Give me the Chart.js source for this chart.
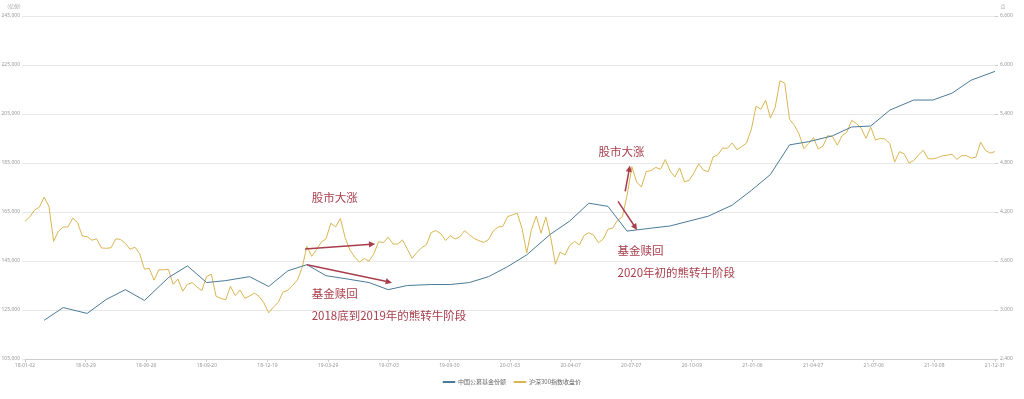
<!DOCTYPE html>
<html>
<head>
<meta charset="utf-8">
<script src="https://cdn.jsdelivr.net/npm/chart.js@4.4.1/dist/chart.umd.min.js"></script>
<style>
  html, body { margin: 0; padding: 0; background: #fff; }
</style>
</head>
<body>
<canvas id="chart" width="1024" height="399"></canvas>
<script>
// x axis tick labels (one every ~quarter)
const xTickLabels = [
  '18-01-02', '18-03-29', '18-06-26', '18-09-20', '18-12-19', '19-03-29',
  '19-07-03', '19-09-30', '20-01-03', '20-04-07', '20-07-07', '20-10-09',
  '21-01-06', '21-04-07', '21-07-06', '21-10-08', '21-12-31'
];

// left / right axis ticks
const fundTicks = [105000, 125000, 145000, 165000, 185000, 205000, 225000, 245000];
const indexTicks = [2400, 3000, 3600, 4200, 4800, 5400, 6000, 6600];

// 沪深300 weekly close, 2018-01 .. 2021-12
const cs300Close = [
  4087, 4138, 4225, 4258, 4382, 4271, 3840, 3966, 4015, 4018, 4125, 4070, 3905,
  3898, 3855, 3871, 3760, 3756, 3761, 3872, 3864, 3816, 3744, 3770, 3689, 3500,
  3510, 3366, 3492, 3492, 3498, 3314, 3379, 3230, 3315, 3334, 3281, 3238, 3410,
  3438, 3166, 3143, 3125, 3290, 3176, 3244, 3143, 3172, 3207, 3166, 3087, 2965,
  3036, 3094, 3220, 3243, 3301, 3365, 3520, 3780, 3657, 3740, 3831, 3872, 4062,
  4018, 4120, 3886, 3734, 3649, 3587, 3630, 3599, 3687, 3837, 3825, 3893, 3808,
  3808, 3858, 3747, 3634, 3703, 3762, 3799, 3948, 3972, 3935, 3852, 3911, 3869,
  3896, 3973, 3921, 3877, 3849, 3828, 3862, 3968, 4017, 4023,
  4144, 4163, 4187, 4003, 3700, 3987, 4149, 3940, 4138, 3895, 3560, 3710, 3675,
  3790, 3839, 3797, 3912, 3946, 3915, 3824, 3867, 3989, 4003, 4099, 4138, 4404,
  4753, 4568, 4505, 4695, 4707, 4746, 4723, 4843, 4704, 4628, 4740, 4570, 4587,
  4681, 4791, 4711, 4695, 4873, 4900, 4983, 4980, 5046, 4961, 5002, 5043, 5211,
  5496, 5458, 5569, 5351, 5483, 5807, 5778, 5336, 5262, 5155, 4976, 5038, 5111,
  4972, 5007, 5135, 5123, 5018, 5135, 5178, 5321, 5283, 5225, 5102, 5240, 5081,
  5102, 5094, 5037, 4811, 4939, 4911, 4799, 4830, 4898, 4956, 4853, 4849, 4866,
  4888, 4895, 4908, 4844, 4888, 4891, 4860, 4871, 5055, 4954, 4921, 4940
];

// fund shares, month ends (week index of each month end)
const fundWeek = [
  4, 8, 13, 17, 21, 25, 30, 34, 38, 42, 47, 51,
  55, 59, 63, 67, 72, 76, 80, 85, 89, 93, 97, 101,
  105, 110, 114, 118, 122, 126, 131, 135, 139, 143, 148, 152,
  156, 160, 164, 169, 173, 177, 181, 186, 190, 194, 198, 203
];
const fundShares = [
  120800, 126000, 123600, 129300, 133300, 128900, 138200, 143000, 136200, 137000, 138600, 134600,
  141000, 143500, 139000, 137800, 136200, 133300, 135000, 135400, 135400, 136200, 138600, 142700,
  147500, 156000, 161300, 168600, 167300, 157200, 158400, 159300, 161300, 163300, 167800, 173800,
  180300, 192400, 193700, 196100, 199700, 200100, 206600, 210700, 210700, 213500, 218800, 222400
];

const seriesNames = ['中国公募基金份额', '沪深300指数收盘价'];

// annotations, anchored on week index / index points
const noteTexts = [
  { text: '股市大涨', x: 60, y: 4370 },
  { text: '基金赎回', x: 60, y: 3200 },
  { text: '2018底到2019年的熊转牛阶段', x: 60, y: 2935 },
  { text: '股市大涨', x: 120, y: 4940 },
  { text: '基金赎回', x: 124, y: 3725 },
  { text: '2020年初的熊转牛阶段', x: 124, y: 3457 }
];
const noteArrows = [
  { from: [58.6, 3748], to: [73.3, 3809] },
  { from: [59, 3554], to: [76.8, 3335] },
  { from: [125.6, 4453], to: [126.6, 4768] },
  { from: [124.1, 4331], to: [128.1, 3979] }
];

const lastWeek = cs300Close.length - 1;

const notesPlugin = {
  id: 'notes',
  afterDatasetsDraw(chart) {
    const { ctx, scales } = chart;
    const px = v => scales.x.getPixelForValue(v);
    const py = v => scales.y1.getPixelForValue(v);
    ctx.save();
    ctx.fillStyle = '#a83e4c';
    ctx.strokeStyle = '#a83e4c';
    ctx.font = '11.5px "Noto Sans CJK SC"';
    ctx.textBaseline = 'middle';
    ctx.textAlign = 'left';
    noteTexts.forEach(n => ctx.fillText(n.text, px(n.x), py(n.y)));

    ctx.lineWidth = 1.5;
    noteArrows.forEach(a => {
      const x1 = px(a.from[0]), y1 = py(a.from[1]);
      const x2 = px(a.to[0]), y2 = py(a.to[1]);
      const ang = Math.atan2(y2 - y1, x2 - x1);
      ctx.beginPath();
      ctx.moveTo(x1, y1);
      ctx.lineTo(x2 - 4 * Math.cos(ang), y2 - 4 * Math.sin(ang));
      ctx.stroke();
      ctx.beginPath();
      ctx.moveTo(x2, y2);
      ctx.lineTo(x2 - 7 * Math.cos(ang - 0.45), y2 - 7 * Math.sin(ang - 0.45));
      ctx.lineTo(x2 - 7 * Math.cos(ang + 0.45), y2 - 7 * Math.sin(ang + 0.45));
      ctx.closePath();
      ctx.fill();
    });

    // unit labels above the axes
    ctx.fillStyle = '#999';
    ctx.font = '5px "Noto Sans CJK SC"';
    ctx.textAlign = 'center';
    ctx.fillText('(亿份)', scales.y.left + 14, 6);
    ctx.fillText('点', scales.y1.left + 8, 6);
    ctx.restore();
  }
};

new Chart(document.getElementById('chart'), {
  type: 'line',
  data: {
    datasets: [
      {
        label: seriesNames[0],
        data: fundWeek.map((w, i) => ({ x: w, y: fundShares[i] })),
        yAxisID: 'y',
        borderColor: '#4a7a98',
        backgroundColor: '#4a7a98',
        borderWidth: 1,
        pointRadius: 0,
        tension: 0
      },
      {
        label: seriesNames[1],
        data: cs300Close.map((v, i) => ({ x: i, y: v })),
        yAxisID: 'y1',
        borderColor: '#d9b552',
        backgroundColor: '#d9b552',
        borderWidth: 1,
        pointRadius: 0,
        tension: 0
      }
    ]
  },
  options: {
    responsive: false,
    animation: false,
    devicePixelRatio: 1,
    layout: { padding: { top: 16, left: 0, right: 0, bottom: 4 } },
    plugins: {
      legend: {
        position: 'bottom',
        labels: {
          font: { size: 6, family: 'Noto Sans CJK SC' },
          color: '#666',
          boxWidth: 12,
          boxHeight: 1,
          padding: 8
        }
      },
      tooltip: { enabled: false }
    },
    scales: {
      x: {
        type: 'linear',
        min: 0,
        max: lastWeek,
        afterBuildTicks: s => {
          s.ticks = xTickLabels.map((_, i) => ({ value: i * lastWeek / (xTickLabels.length - 1) }));
        },
        afterFit: s => { s.height = 12; },
        ticks: {
          autoSkip: false,
          maxRotation: 0,
          padding: 1,
          font: { size: 5, family: 'Noto Sans' },
          color: '#999',
          callback: (v, i) => xTickLabels[i]
        },
        grid: { drawOnChartArea: false, tickLength: 3, color: '#ccc' },
        border: { color: '#ccc' }
      },
      y: {
        position: 'left',
        min: fundTicks[0],
        max: fundTicks[fundTicks.length - 1],
        afterFit: s => { s.width = 25; },
        ticks: {
          stepSize: fundTicks[1] - fundTicks[0],
          padding: 2,
          font: { size: 5, family: 'Noto Sans' },
          color: '#999'
        },
        grid: { color: '#e8e8e8', tickLength: 3 },
        border: { display: false }
      },
      y1: {
        position: 'right',
        min: indexTicks[0],
        max: indexTicks[indexTicks.length - 1],
        afterFit: s => { s.width = 29; },
        ticks: {
          stepSize: indexTicks[1] - indexTicks[0],
          padding: 2,
          font: { size: 5, family: 'Noto Sans' },
          color: '#999'
        },
        grid: { drawOnChartArea: false, tickLength: 3, color: '#ccc' },
        border: { display: false }
      }
    }
  },
  plugins: [notesPlugin]
});
</script>
</body>
</html>
